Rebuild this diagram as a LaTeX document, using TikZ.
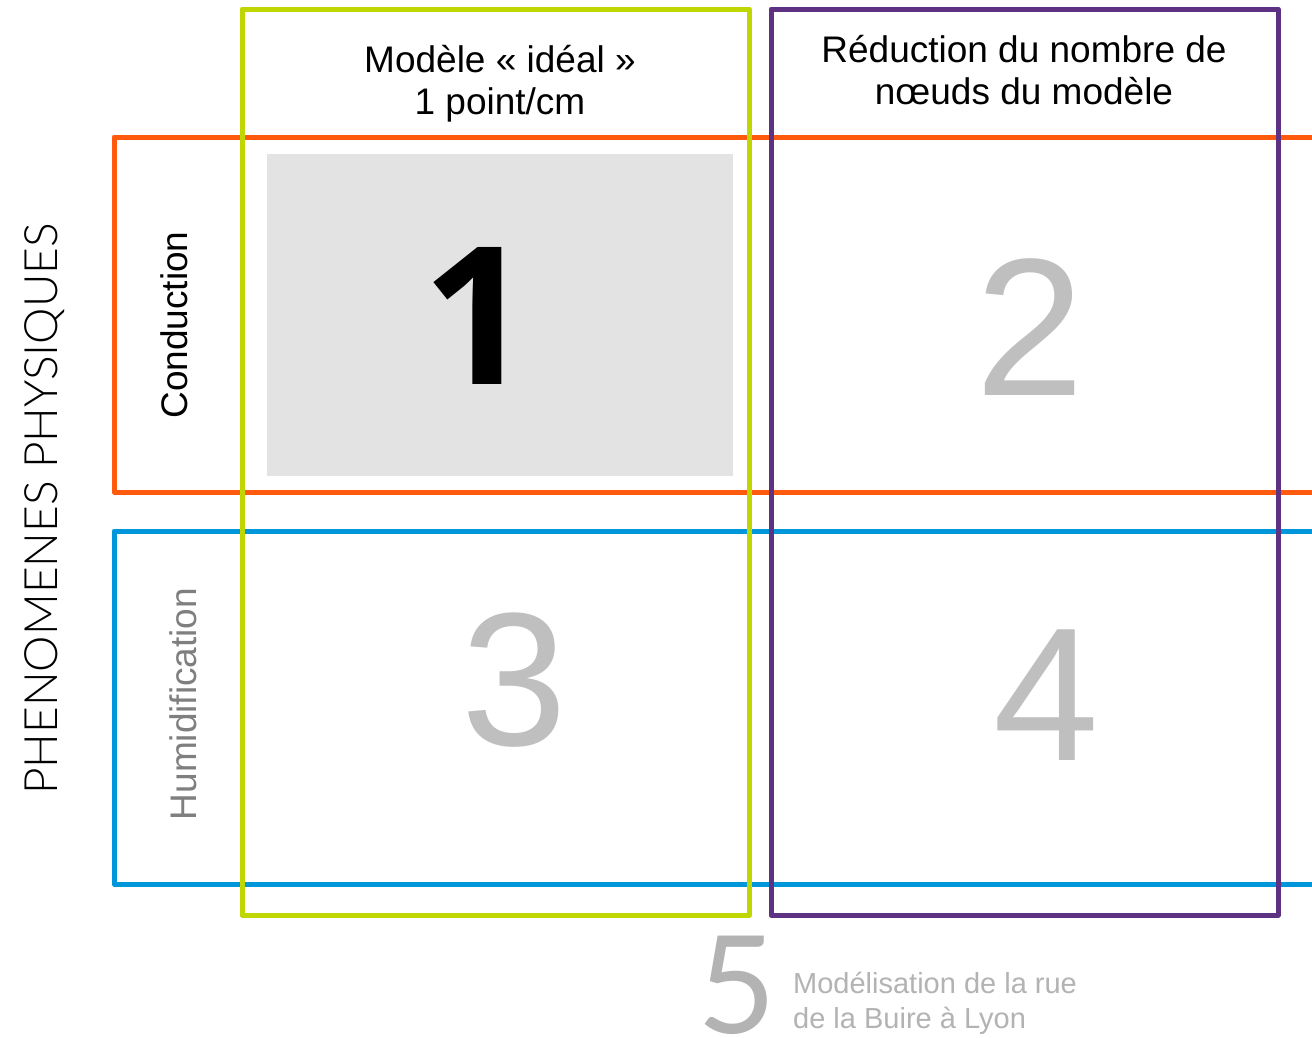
\documentclass[tikz,border=0pt]{standalone}
\usepackage{fontspec}
\setmainfont{Liberation Sans}
\newfontfamily\thinfont{Lato Light}
\newfontfamily\gothfont{Lato}
\newfontfamily\onefont{Open Sans}
\definecolor{cgreen}{HTML}{BFD600}
\definecolor{cpurple}{HTML}{5E3282}
\definecolor{corange}{HTML}{FF5A0D}
\definecolor{cblue}{HTML}{0097DA}
\definecolor{cgreybox}{HTML}{E3E3E3}
\definecolor{cdigit}{HTML}{BFBFBF}
\definecolor{clabel}{HTML}{7F7F7F}
\definecolor{cfoot}{HTML}{B3B3B3}
\begin{document}
\begin{tikzpicture}[x=1pt,y=-1pt,
  frame/.style={line width=5pt, line join=round},
  head/.style={font=\fontsize{37}{42}\selectfont, align=center, anchor=base},
  bigdigit/.style={font=\fontsize{196}{196}\selectfont, text=cdigit, anchor=center, inner sep=0pt},
  sidelabel/.style={font=\fontsize{37}{40}\selectfont, rotate=90, anchor=base, inner sep=0pt}]
\useasboundingbox (0,0) rectangle (1312,1037);
\fill[white] (0,0) rectangle (1312,1037);
% rows
\draw[frame, corange] (1330,137) -- (114,137) -- (114,492) -- (1330,492);
\draw[frame, cblue] (1330,531) -- (114,531) -- (114,884) -- (1330,884);
% grey cell
\fill[cgreybox] (267,154) rectangle (733,476);
% columns
\draw[frame, cgreen] (242,9) rectangle (749,915);
\draw[frame, cpurple] (771,9) rectangle (1278,915);
% headers
\node[head] (h1) at (500,114) {Modèle « idéal »\\1 point/cm};
\node[head] (h2) at (1024,104) {Réduction du nombre de\\nœuds du modèle};
% side labels
\node[sidelabel] (cond) at (187,325) {Conduction};
\node[sidelabel, text=clabel] (hum) at (196,704) {Humidification};
\node[sidelabel, font=\thinfont\fontsize{46}{50}\selectfont] (phen) at (57,509) {PHENOMENES PHYSIQUES};
% digits
\node[bigdigit, text=black, font=\onefont\bfseries\fontsize{192}{192}\selectfont] (d1) at (477,316) {1};
\node[bigdigit] (d2) at (1030,327) {2};
\node[bigdigit, font=\fontsize{190}{190}\selectfont] (d3) at (514,680) {3};
\node[bigdigit, font=\fontsize{190}{190}\selectfont] (d4) at (1046,695) {4};
% footer
\node[font=\gothfont\fontsize{136}{136}\selectfont, text=cfoot, anchor=base, inner sep=0pt] (d5) at (737,1033) {5};
\node[font=\fontsize{29}{35}\selectfont, text=cfoot, align=left, anchor=base west, inner sep=0pt] (foot) at (793,1028) {Modélisation de la rue\\de la Buire à Lyon};
\end{tikzpicture}
\end{document}
